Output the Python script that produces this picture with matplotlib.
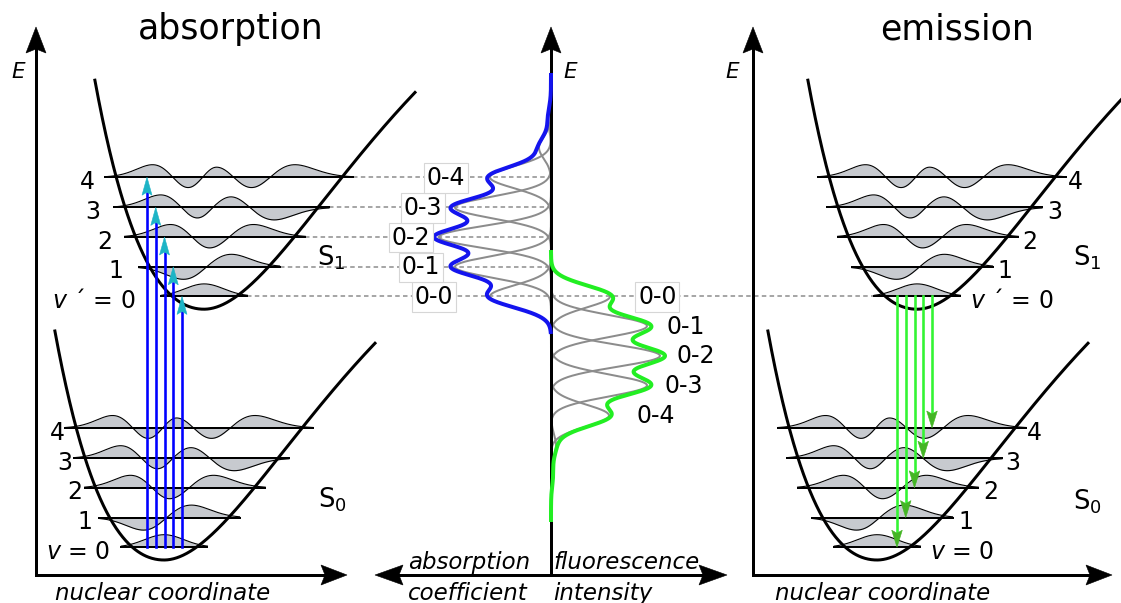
import numpy as np
import matplotlib
matplotlib.use("Agg")
import matplotlib.pyplot as plt
from matplotlib.patches import Polygon
from numpy.polynomial.hermite import hermval

# ---------------- data ----------------
# vibrational ladder (same in S0 and S1): energy above the potential minimum
vib_quanta = [0, 1, 2, 3, 4]
vib_energy = [12.8, 42.4, 72.2, 101.8, 132.0, 161.6, 191.2]
wave_sign = [1, 1, 1, -1, 1]

# vibronic bands 0-0 ... 0-6 (only the first five are labelled)
band_labels = ["0-0", "0-1", "0-2", "0-3", "0-4"]
abs_intensity = [61, 96, 112, 96, 61, 12, 3]
em_intensity = [59, 96, 109, 96, 58, 5, 2]
band_width = 11.0

# anharmonic (Morse-type) potential: depth, inner / outer range parameters
morse_depth = 435.0
morse_a_inner = 0.0050
morse_a_outer = 0.0058

# ---------------- layout (pixel frame) ----------------
W, H = 1121, 603
AX_Y, AX_TOP = 575, 27
X_LEFT, X_MID, X_RIGHT = 36, 551, 753
X_LEFT_END, X_RIGHT_END = 347, 1112
MID_ARROW = (375, 727)
S0_Y, S1_Y = 560.0, 309.2
ABS_S0_X, ABS_S1_X = 164.0, 204.0
EM_S0_X, EM_S1_X = 877.0, 917.0
WALL_TOP, OUTER_REACH = 229.0, 211.0
WAVE_AMP, LINE_MARGIN = 12.5, 11.0

lbl_abs_s1_x = [135, 123, 112, 100, 95]
lbl_abs_s0_x = [110, 92, 82, 72, 65]
lbl_em_s1_x = [970, 997, 1022, 1047, 1068]
lbl_em_s0_x = [930, 958, 983, 1005, 1027]
abs_lbl_right = [453, 440, 430, 442, 465]
em_lbl_left = [638, 666, 677, 665, 637]

BLUE = "#1414ee"
GREEN = "#22ee22"
GREY_LINE = "#8c8c8c"
SHAFT_BLUE = "#0000ff"
HEAD_CYAN = "#1db4c6"
SHAFT_GREEN = "#33f533"
HEAD_GREEN = "#44b525"
FILL = "#c7cacf"
DOT = "#8a8a8a"

PT = 72 / 100.0  # points per pixel at dpi 100
FS_NUM = 17
EM_NUM = FS_NUM / PT


def px(v):
    return v * PT


fig = plt.figure(figsize=(W / 100, H / 100), dpi=100)
ax = fig.add_axes([0, 0, 1, 1])
ax.set_xlim(0, W)
ax.set_ylim(H, 0)
ax.axis("off")


def potential(d):
    a = np.where(d < 0, morse_a_inner, morse_a_outer)
    return morse_depth * (1 - np.exp(-a * d)) ** 2


def turning_points(e):
    s = np.sqrt(e / morse_depth)
    return -np.log1p(s) / morse_a_inner, -np.log(1 - s) / morse_a_outer


def head(tip, direction, length, half, notch, color, z=6):
    tx, ty = tip
    dx, dy = direction
    pxv, pyv = -dy, dx
    bx, by = tx - dx * length, ty - dy * length
    nx, ny = tx - dx * (length - notch), ty - dy * (length - notch)
    pts = [(tx, ty), (bx + pxv * half, by + pyv * half), (nx, ny),
           (bx - pxv * half, by - pyv * half)]
    ax.add_patch(Polygon(pts, closed=True, fc=color, ec=color, lw=0.4, zorder=z))


def draw_well(x0, ymin):
    d_in, _ = turning_points(WALL_TOP)
    d = np.linspace(d_in, OUTER_REACH, 700)
    ax.plot(x0 + d, ymin - potential(d), color="k", lw=px(3), zorder=4)


def draw_level(x0, ymin, v):
    e = vib_energy[v]
    dl, dr = turning_points(e)
    left, right = x0 + dl - LINE_MARGIN, x0 + dr + LINE_MARGIN
    xc = x0 + 0.25 * (dl + dr)
    xi_max = np.sqrt(2 * v + 1) + 1.2
    xi = np.linspace(-xi_max, xi_max, 500)
    coef = [0] * v + [1]
    psi = hermval(xi, coef) * np.exp(-xi ** 2 / 2)
    psi = psi / np.abs(psi).max() * wave_sign[v]
    x = np.where(xi < 0, xc + xi / xi_max * (xc - left), xc + xi / xi_max * (right - xc))
    y = ymin - e
    ax.fill_between(x, y, y - WAVE_AMP * psi, color=FILL, lw=0, zorder=2)
    ax.plot(x, y - WAVE_AMP * psi, color="k", lw=px(1.1), zorder=2.2)
    ax.plot([left, right], [y, y], color="k", lw=px(2.0), zorder=2.5)
    return left, right, y


def level_text(v, upper):
    if v == 0:
        return r"$\mathit{v}$ ´ = 0" if upper else r"$\mathit{v}$ = 0"
    return str(v)


# ---------------- axes ----------------
for x0, x1 in [(X_LEFT, X_LEFT_END), (X_RIGHT, X_RIGHT_END)]:
    ax.plot([x0, x0], [AX_Y, AX_TOP + 20], color="k", lw=px(3),
            solid_capstyle="projecting", zorder=3)
    ax.plot([x0, x1 - 20], [AX_Y, AX_Y], color="k", lw=px(3),
            solid_capstyle="projecting", zorder=3)
    head((x0, AX_TOP), (0, -1), 26, 10, 4, "k", 3)
    head((x1, AX_Y), (1, 0), 26, 10, 4, "k", 3)
ax.plot([X_MID, X_MID], [AX_Y, AX_TOP + 20], color="k", lw=px(3), zorder=3)
ax.plot([MID_ARROW[0] + 20, MID_ARROW[1] - 20], [AX_Y, AX_Y], color="k", lw=px(3), zorder=3)
head((X_MID, AX_TOP), (0, -1), 26, 10, 4, "k", 3)
head((MID_ARROW[0], AX_Y), (-1, 0), 28, 10, 4, "k", 3)
head((MID_ARROW[1], AX_Y), (1, 0), 28, 10, 4, "k", 3)

for xe in [18.5, 570, 732]:
    ax.text(xe, 77.6, "E", fontsize=15.5, style="italic", ha="center", va="baseline")

ax.text(231, 39, "absorption", fontsize=25, ha="center", va="baseline")
ax.text(957.5, 39, "emission", fontsize=25, ha="center", va="baseline")
for xc in [163, 883]:
    ax.text(xc, 600, "nuclear coordinate", fontsize=16.5, style="italic",
            ha="center", va="baseline")
ax.text(408, 569, "absorption", fontsize=16.5, style="italic", ha="left", va="baseline")
ax.text(408, 600, "coefficient", fontsize=16.5, style="italic", ha="left", va="baseline")
ax.text(553, 569, "fluorescence", fontsize=16.5, style="italic", ha="left", va="baseline")
ax.text(553, 600, "intensity", fontsize=16.5, style="italic", ha="left", va="baseline")

# ---------------- potential wells and vibrational levels ----------------
for x0, ymin in [(ABS_S0_X, S0_Y), (ABS_S1_X, S1_Y), (EM_S0_X, S0_Y), (EM_S1_X, S1_Y)]:
    draw_well(x0, ymin)

abs_s1 = [draw_level(ABS_S1_X, S1_Y, v) for v in vib_quanta]
abs_s0 = [draw_level(ABS_S0_X, S0_Y, v) for v in vib_quanta]
em_s1 = [draw_level(EM_S1_X, S1_Y, v) for v in vib_quanta]
em_s0 = [draw_level(EM_S0_X, S0_Y, v) for v in vib_quanta]

base_off = 3 + 0.3645 * EM_NUM
for v in vib_quanta:
    ax.text(lbl_abs_s1_x[v], abs_s1[v][2] + base_off, level_text(v, True),
            fontsize=FS_NUM, ha="right", va="baseline", zorder=5)
    ax.text(lbl_abs_s0_x[v], abs_s0[v][2] + base_off, level_text(v, False),
            fontsize=FS_NUM, ha="right", va="baseline", zorder=5)
    ax.text(lbl_em_s1_x[v], em_s1[v][2] + base_off, level_text(v, True),
            fontsize=FS_NUM, ha="left", va="baseline", zorder=5)
    ax.text(lbl_em_s0_x[v], em_s0[v][2] + base_off, level_text(v, False),
            fontsize=FS_NUM, ha="left", va="baseline", zorder=5)

for xs, yb, sub in [(317, 266, "1"), (318, 507, "0"), (1073, 266, "1"), (1073, 510, "0")]:
    ax.text(xs, yb, "S$_{%s}$" % sub, fontsize=18.5, ha="left", va="baseline")

# dotted guides from the S1 levels to the spectra
for v in vib_quanta:
    x_end = em_s1[0][0] if v == 0 else X_MID
    ax.plot([abs_s1[v][1], x_end], [abs_s1[v][2]] * 2, color=DOT, lw=px(1.5),
            dashes=(3.0, 2.2), zorder=1)

# ---------------- transitions ----------------
for i, v in enumerate(vib_quanta[::-1]):
    x = ABS_S0_X - 17 + 8.75 * i
    y0, tip = abs_s0[0][2], abs_s1[v][2]
    ax.plot([x, x], [y0, tip + 16], color=SHAFT_BLUE, lw=px(2.6), zorder=5)
    head((x, tip), (0, -1), 18, 5, 3, HEAD_CYAN)

for i, v in enumerate(vib_quanta):
    x = EM_S1_X - 20 + 8.75 * i
    y0, tip = em_s1[0][2], em_s0[v][2]
    ax.plot([x, x], [y0, tip - 15], color=SHAFT_GREEN, lw=px(2.6), zorder=5)
    head((x, tip), (0, 1), 17, 5.3, 3, HEAD_GREEN)

# ---------------- spectra ----------------
abs_centers = [S1_Y - e for e in vib_energy]
em_centers = [S1_Y - vib_energy[0] + (e - vib_energy[0]) for e in vib_energy]


def band(y, c, h):
    return h * np.exp(-(y - c) ** 2 / (2 * band_width ** 2))


for c, h in zip(abs_centers, abs_intensity):
    yy = np.linspace(c - 50, c + 50, 300)
    ax.plot(X_MID - band(yy, c, h), yy, color=GREY_LINE, lw=px(2), zorder=2)
for c, h in zip(em_centers, em_intensity):
    yy = np.linspace(c - 50, c + 50, 300)
    ax.plot(X_MID + band(yy, c, h), yy, color=GREY_LINE, lw=px(2), zorder=2)

ya = np.linspace(75, 332, 900)
ax.plot(X_MID - sum(band(ya, c, h) for c, h in zip(abs_centers, abs_intensity)), ya,
        color=BLUE, lw=px(4), zorder=4)
ye = np.linspace(252, 520, 900)
ax.plot(X_MID + sum(band(ye, c, h) for c, h in zip(em_centers, em_intensity)), ye,
        color=GREEN, lw=px(4), zorder=4)

box = dict(boxstyle="square,pad=0.12", fc="white", ec="#d6d6d6", lw=0.8)
for k, lab in enumerate(band_labels):
    ax.text(abs_lbl_right[k], abs_centers[k] + 0.3645 * EM_NUM - 1, lab, fontsize=FS_NUM,
            ha="right", va="baseline", bbox=box, zorder=6)
    ax.text(em_lbl_left[k], em_centers[k] + 0.3645 * EM_NUM - 1, lab, fontsize=FS_NUM,
            ha="left", va="baseline", bbox=box if k == 0 else None, zorder=6)

fig.savefig("out.png", dpi=100)
